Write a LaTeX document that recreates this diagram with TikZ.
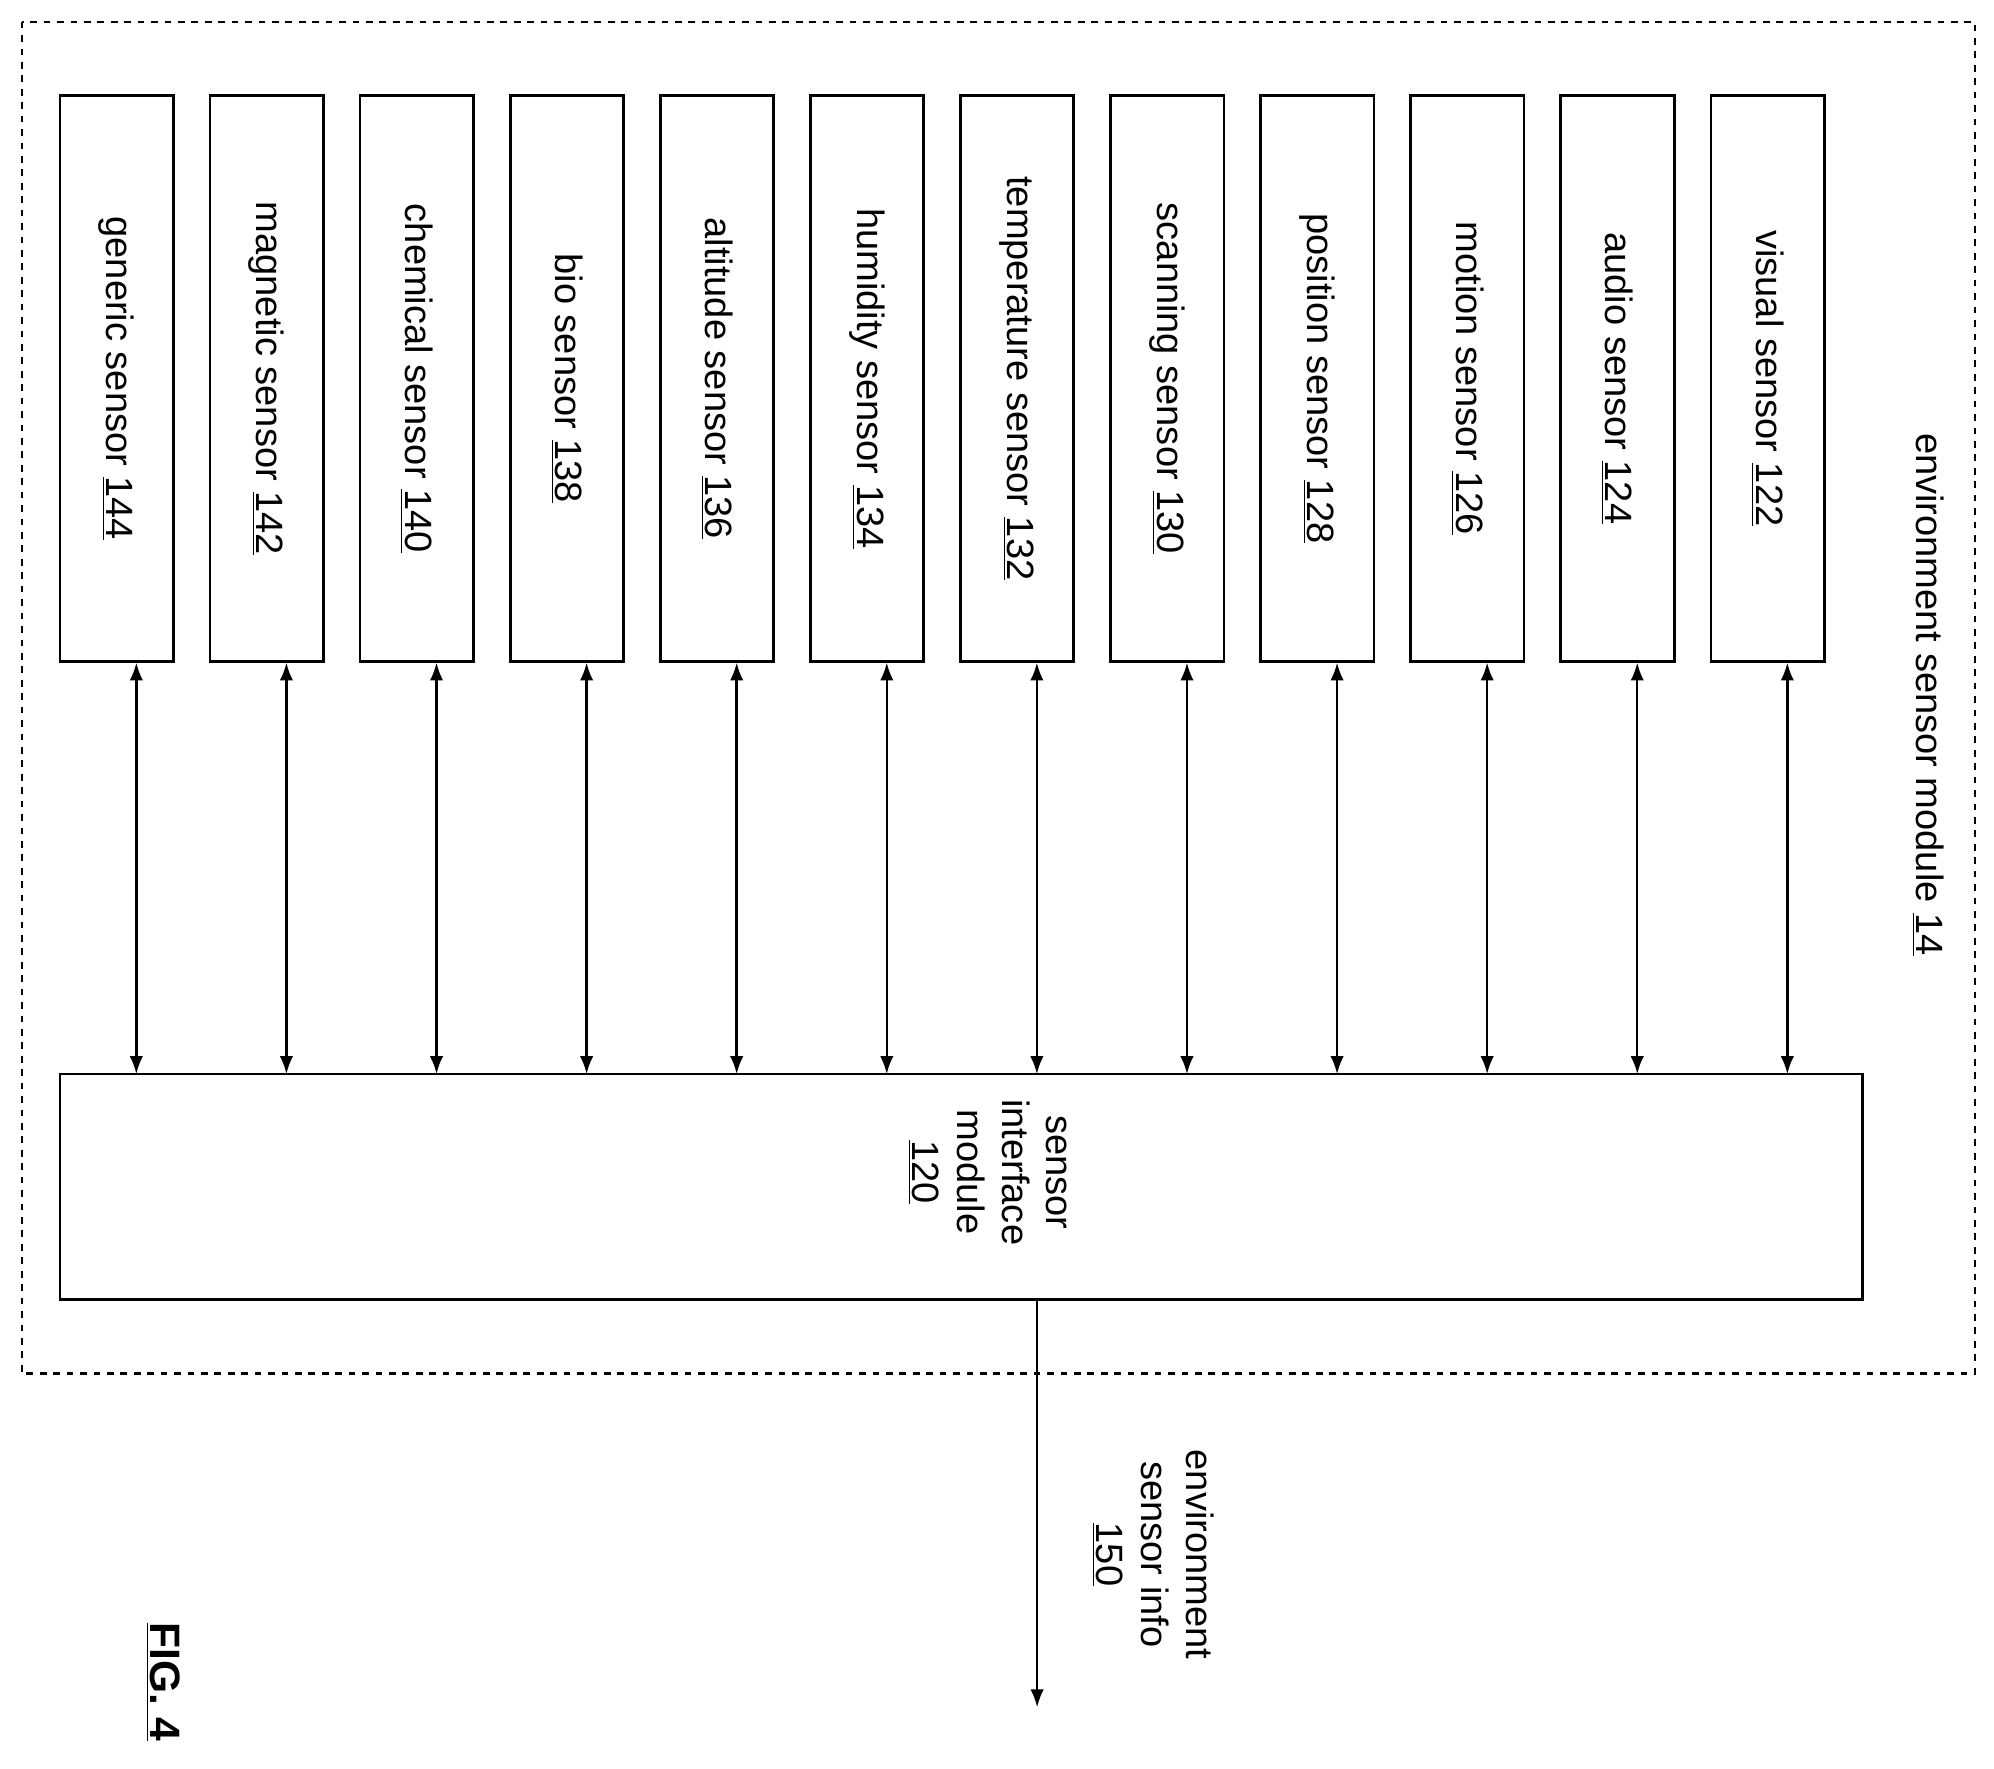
\documentclass[tikz,border=0pt]{standalone}
\usepackage{fontspec}
\setmainfont{Liberation Sans}
\usetikzlibrary{positioning,arrows.meta}

\tikzset{
  sensorbox/.style={draw, line width=1.2pt, minimum width=1.78cm, minimum height=8.88cm, inner sep=0pt},
  vlabel/.style={rotate=-90, font=\fontsize{17}{20}\selectfont, align=center, inner sep=0pt},
  link/.style={line width=1.1pt, {Latex[length=8pt,width=6pt]}-{Latex[length=8pt,width=6pt]}}
}

\begin{document}
\begin{tikzpicture}[x=0.02cm, y=-0.02cm]
\useasboundingbox (0,0) rectangle (1565,1388);
\draw [dashed, line width=1pt] (17,17) rectangle (1550,1078);
\node (mod) [vlabel] at (1513,545) {environment sensor module \underline{14}};
% interface box
\node (iface) [draw, line width=1.2pt, minimum width=28.3cm, minimum height=3.54cm, inner sep=0pt] at (754.5,931.5) {};
\node [vlabel] at (775,920) {sensor\\interface\\module\\\underline{120}};
% sensors
\foreach \i/\txt/\num in {0/generic/144,1/magnetic/142,2/chemical/140,3/bio/138,
  4/altitude/136,5/humidity/134,6/temperature/132,7/scanning/130,
  8/position/128,9/motion/126,10/audio/124,11/visual/122}{
  \node (s\num) [sensorbox] at ({91.5+117.8*\i},297) {};
  \node [vlabel] at (s\num) {\txt\ sensor \underline{\num}};
  \coordinate (top\num) at ({107+117.8*\i},843);
  \draw [link] (s\num.south -| top\num) -- (top\num);
}
% output
\coordinate (out) at (814,1340);
\draw [line width=1.1pt, -{Latex[length=8pt,width=6pt]}] (iface.south -| out) -- (out);
\node (info) [vlabel] at (905,1220) {environment\\sensor info\\\underline{150}};
\node (fig) [vlabel, font=\bfseries\fontsize{19}{22}\selectfont] at (128,1320) {\underline{FIG. 4}};
\end{tikzpicture}
\end{document}
